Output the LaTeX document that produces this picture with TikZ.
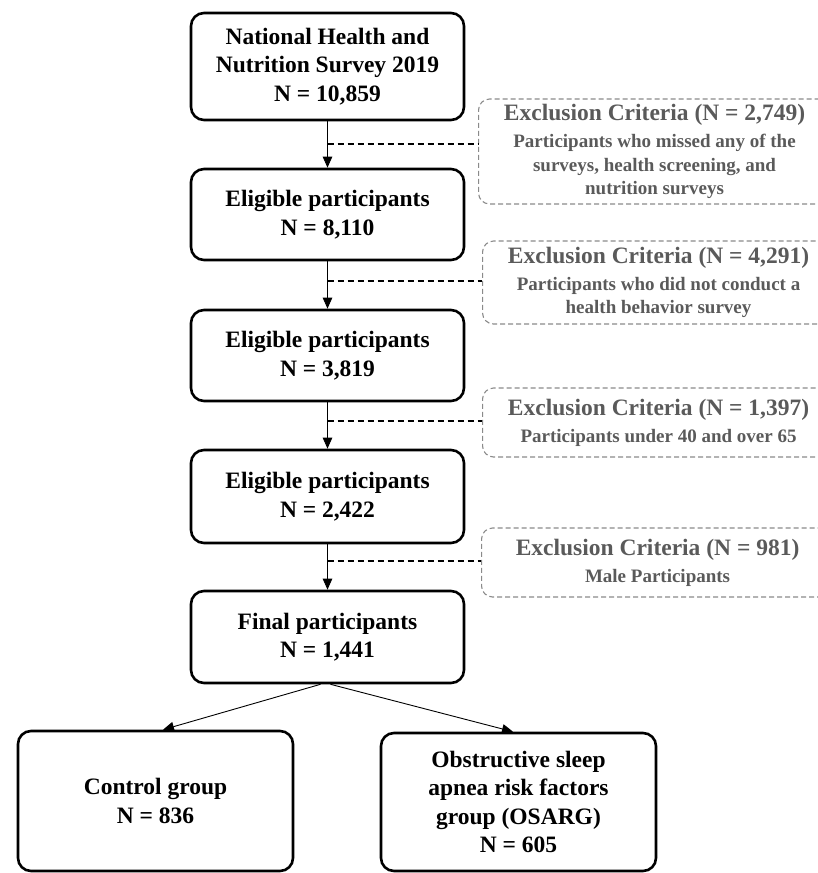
\documentclass[tikz,border=0pt]{standalone}
\usepackage{fontspec}
\setmainfont{Liberation Serif}
\usetikzlibrary{arrows.meta}
\definecolor{extext}{HTML}{5A5A5A}
\definecolor{exborder}{HTML}{8A8A8A}
\begin{document}
\begin{tikzpicture}[x=1pt,y=-1pt,
  mainbox/.style={draw, line width=2.6pt, rounded corners=13pt, minimum width=273pt,
    align=center, inner sep=0pt, font=\bfseries\fontsize{23.5}{28.5}\selectfont},
  exbox/.style={draw=exborder, dash pattern=on 5pt off 3pt, line width=1.1pt,
    rounded corners=11pt, minimum width=352pt, align=center, inner sep=0pt,
    text=extext, font=\bfseries\fontsize{19}{23.5}\selectfont, anchor=west},
  arr/.style={line width=0.9pt, -{Triangle[length=11pt,width=9.5pt]}},
  exlink/.style={line width=1.3pt, dash pattern=on 6pt off 4pt}
]
\useasboundingbox (0,0) rectangle (818,873);

% main chain
\node[mainbox, minimum height=107pt] (b1) at (327.5,66.5) {National Health and\\Nutrition Survey 2019\\N = 10,859};
\node[mainbox, minimum height=91pt] (b2) at (327.5,214.5) {Eligible participants\\N = 8,110};
\node[mainbox, minimum height=91pt] (b3) at (327.5,355.5) {Eligible participants\\N = 3,819};
\node[mainbox, minimum height=93pt] (b4) at (327.5,496.5) {Eligible participants\\N = 2,422};
\node[mainbox, minimum height=92pt] (fin) at (327.5,637) {Final participants\\N = 1,441};
\node[mainbox, minimum width=275pt, minimum height=140pt] (ctrl) at (155.5,801) {Control group\\N = 836};
\node[mainbox, minimum width=275pt, minimum height=138pt] (osa) at (518.5,802) {Obstructive sleep\\apnea risk factors\\group (OSARG)\\N = 605};

% exclusion boxes
\node[exbox, minimum height=105pt] (e1) at (478,151.5) {{\fontsize{23.5}{28.5}\selectfont Exclusion Criteria (N = 2,749)}\\[3.5pt]Participants who missed any of the\\surveys, health screening, and\\nutrition surveys};
\node[exbox, minimum height=83pt] (e2) at (482,282.5) {{\fontsize{23.5}{28.5}\selectfont Exclusion Criteria (N = 4,291)}\\[3.5pt]Participants who did not conduct a\\health behavior survey};
\node[exbox, minimum height=69pt] (e3) at (482,422.5) {{\fontsize{23.5}{28.5}\selectfont Exclusion Criteria (N = 1,397)}\\[3.5pt]Participants under 40 and over 65};
\node[exbox, minimum height=69pt] (e4) at (481,562.5) {{\fontsize{23.5}{28.5}\selectfont Exclusion Criteria (N = 981)}\\[3.5pt]Male Participants};

% arrows
\draw[arr] (b1) -- (b2);
\draw[arr] (b2) -- (b3);
\draw[arr] (b3) -- (b4);
\draw[arr] (b4) -- (fin);
\draw[arr] ([xshift=-7pt]fin.south) -- ([xshift=7.5pt]ctrl.north);
\draw[arr] ([xshift=3pt]fin.south) -- ([xshift=-5.5pt]osa.north);

% dashed exclusion links
\coordinate (j1) at (327.5,144);
\coordinate (j2) at (327.5,281);
\coordinate (j3) at (327.5,421);
\coordinate (j4) at (327.5,561);
\draw[exlink] (j1) -- (j1 -| e1.west);
\draw[exlink] (j2) -- (j2 -| e2.west);
\draw[exlink] (j3) -- (j3 -| e3.west);
\draw[exlink] (j4) -- (j4 -| e4.west);
\end{tikzpicture}
\end{document}
